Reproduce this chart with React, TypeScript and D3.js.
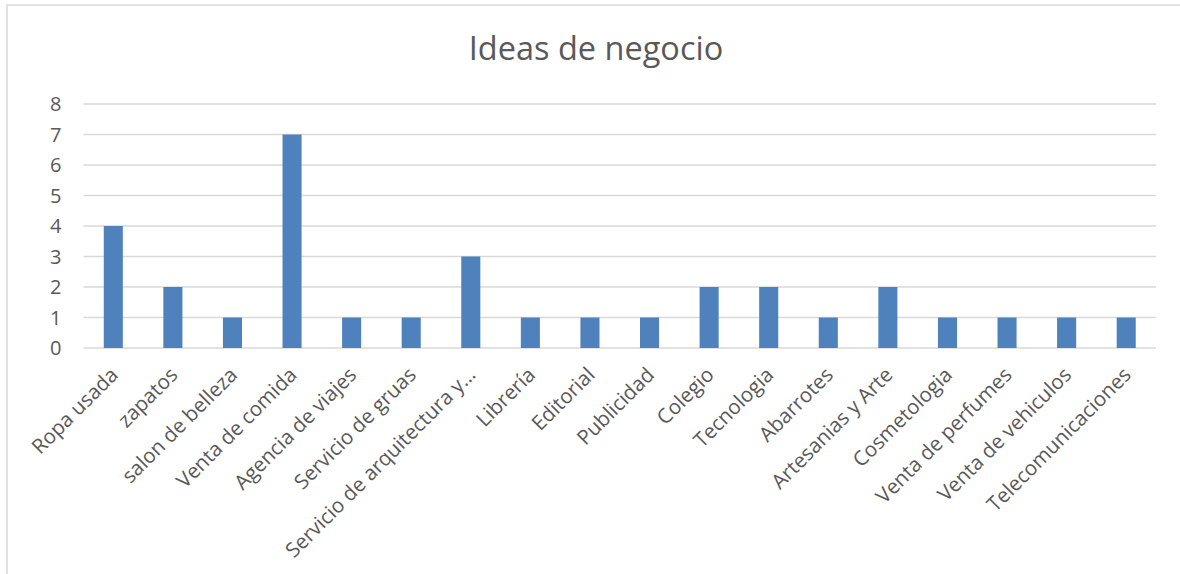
import React from "react";
import * as d3 from "d3";

const categories = [
  "Ropa usada",
  "zapatos",
  "salon de belleza",
  "Venta de comida",
  "Agencia de viajes",
  "Servicio de gruas",
  "Servicio de arquitectura y…",
  "Librería",
  "Editorial",
  "Publicidad",
  "Colegio",
  "Tecnologia",
  "Abarrotes",
  "Artesanias y Arte",
  "Cosmetologia",
  "Venta de perfumes",
  "Venta de vehiculos",
  "Telecomunicaciones",
];
const values = [4, 2, 1, 7, 1, 1, 3, 1, 1, 1, 2, 2, 1, 2, 1, 1, 1, 1];
const yTicks = [0, 1, 2, 3, 4, 5, 6, 7, 8];
const title = "Ideas de negocio";

const W = 1180;
const H = 574;
const left = 83.5;
const right = 1156;
const top = 104;
const bottom = 348;
const font = "'Open Sans', 'DejaVu Sans', sans-serif";
const textColor = "#595959";

export default function App() {
  const x = d3.scaleBand<string>().domain(categories).range([left, right]).padding(0);
  const y = d3.scaleLinear().domain([0, 8]).range([bottom, top]);
  const bw = x.bandwidth() * 0.32;

  return (
    <svg
      width={W}
      height={H}
      style={{ position: "absolute", left: 0, top: 0, background: "#fff" }}
    >
      <rect x={7} y={5} width={W + 20} height={H + 20} fill="#fff" stroke="#d9d9d9" strokeWidth={1.5} />
      <text x={596} y={60} textAnchor="middle" fontFamily={font} fontSize={32.5} fill={textColor}>
        {title}
      </text>
      {yTicks.map((t) => (
        <g key={t}>
          <line x1={left} x2={right} y1={y(t)} y2={y(t)} stroke="#d9d9d9" strokeWidth={1.3} />
          <text
            x={61.5}
            y={y(t)}
            dy="0.36em"
            textAnchor="end"
            fontFamily={font}
            fontSize={20}
            fill={textColor}
          >
            {t}
          </text>
        </g>
      ))}
      {categories.map((c, i) => {
        const cx = (x(c) as number) + x.bandwidth() / 2;
        return (
          <g key={c}>
            <rect x={cx - bw / 2} y={y(values[i])} width={bw} height={y(0) - y(values[i])} fill="#4f81bd" />
            <text
              transform={`translate(${cx + 1},${bottom + 23}) rotate(-45)`}
              dy="0.35em"
              textAnchor="end"
              fontFamily={font}
              fontSize={20.5}
              fill={textColor}
            >
              {c}
            </text>
          </g>
        );
      })}
    </svg>
  );
}
